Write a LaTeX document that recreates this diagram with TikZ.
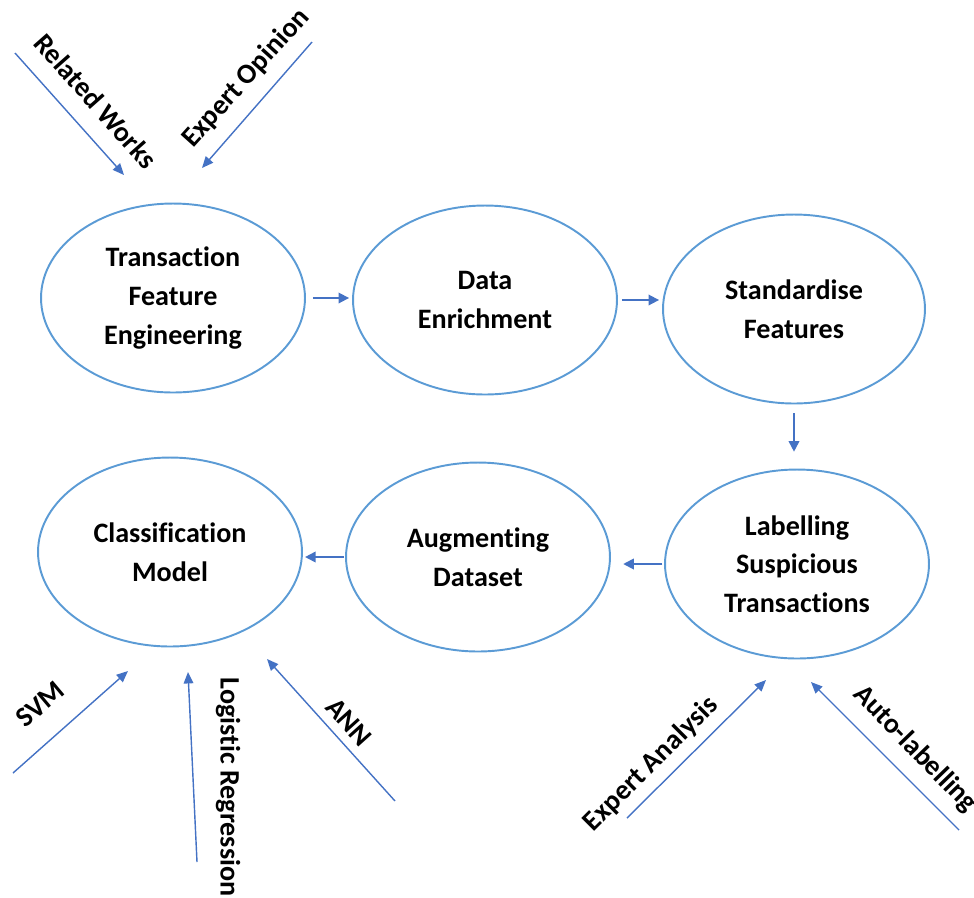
\documentclass[tikz,border=0pt]{standalone}
\usepackage{fontspec}
\setmainfont{Carlito}[Ligatures={NoCommon,NoContextual}]
\usetikzlibrary{shapes.geometric,arrows.meta}
\definecolor{ringblue}{HTML}{5B9BD5}
\definecolor{arrowblue}{HTML}{4472C4}

\begin{document}
\begin{tikzpicture}[x=0.02cm,y=-0.02cm,
        stage/.style={ellipse,draw=ringblue,line width=1.1pt,minimum width=5.28cm,minimum height=3.78cm,inner sep=0pt,align=center,font=\fontsize{16}{22}\selectfont\bfseries},
        flow/.style={draw=arrowblue,line width=1pt,-{Triangle[length=6pt,width=6pt]}},
        feed/.style={draw=arrowblue,line width=0.8pt,-{Triangle[length=6.5pt,width=5.5pt]}},
        tag/.style={font=\fontsize{16}{22}\selectfont\bfseries,inner sep=0pt}]
        \useasboundingbox (0,0) rectangle (974,897);

        \node[stage] (feat) at (173,298) {Transaction\\Feature\\Engineering};
        \node[stage] (enrich) at (485,300) {Data\\Enrichment};
        \node[stage, minimum width=5.24cm] (std) at (794,309) {Standardise\\Features};
        \node[stage] (label) at (797,564) {Labelling\\Suspicious\\Transactions};
        \node[stage] (aug) at (478,557) {Augmenting\\Dataset};
        \node[stage] (clf) at (170,552) {Classification\\Model};

        \draw[flow, shorten <=4pt, shorten >=1.7pt] (feat.east) -- (feat.east -| enrich.west);
        \draw[flow, shorten <=2.3pt, shorten >=1.7pt] (enrich.east) -- (enrich.east -| std.west);
        \draw[flow, shorten <=5pt, shorten >=9.6pt] (std.south) -- (std.south |- label.north);
        \draw[flow, shorten <=1pt, shorten >=7pt] (label.west) -- (label.west -| aug.east);
        \draw[flow, shorten <=0.5pt, shorten >=1.2pt] (aug.west) -- (aug.west -| clf.east);

        \coordinate (rwA) at (15,53);    \coordinate (rwB) at (124,175);
        \coordinate (eoA) at (312,42);   \coordinate (eoB) at (202,168);
        \coordinate (eaA) at (627,818);  \coordinate (eaB) at (766,680);
        \coordinate (alA) at (959,830);  \coordinate (alB) at (811,682);
        \coordinate (svA) at (13,773);   \coordinate (svB) at (128,671);
        \coordinate (lrA) at (197,862);  \coordinate (lrB) at (188,672);
        \coordinate (anA) at (395,801);  \coordinate (anB) at (267,659);

        \draw[feed] (rwA) -- (rwB);
        \draw[feed] (eoA) -- (eoB);
        \draw[feed] (eaA) -- (eaB);
        \draw[feed] (alA) -- (alB);
        \draw[feed] (svA) -- (svB);
        \draw[feed] (lrA) -- (lrB);
        \draw[feed] (anA) -- (anB);

        \node[tag, rotate=-48.5] (rw) at (96,101) {Related Works};
        \node[tag, rotate=48] (eo) at (246,78) {Expert Opinion};
        \node[tag, rotate=45] (ea) at (651,764) {Expert Analysis};
        \node[tag, rotate=-46] (al) at (915,749) {Auto-labelling};
        \node[tag, rotate=40] (sv) at (40,704) {SVM};
        \node[tag, rotate=-90] (lr) at (228,787) {Logistic Regression};
        \node[tag, rotate=-48] (an) at (349,722) {ANN};
\end{tikzpicture}
\end{document}
